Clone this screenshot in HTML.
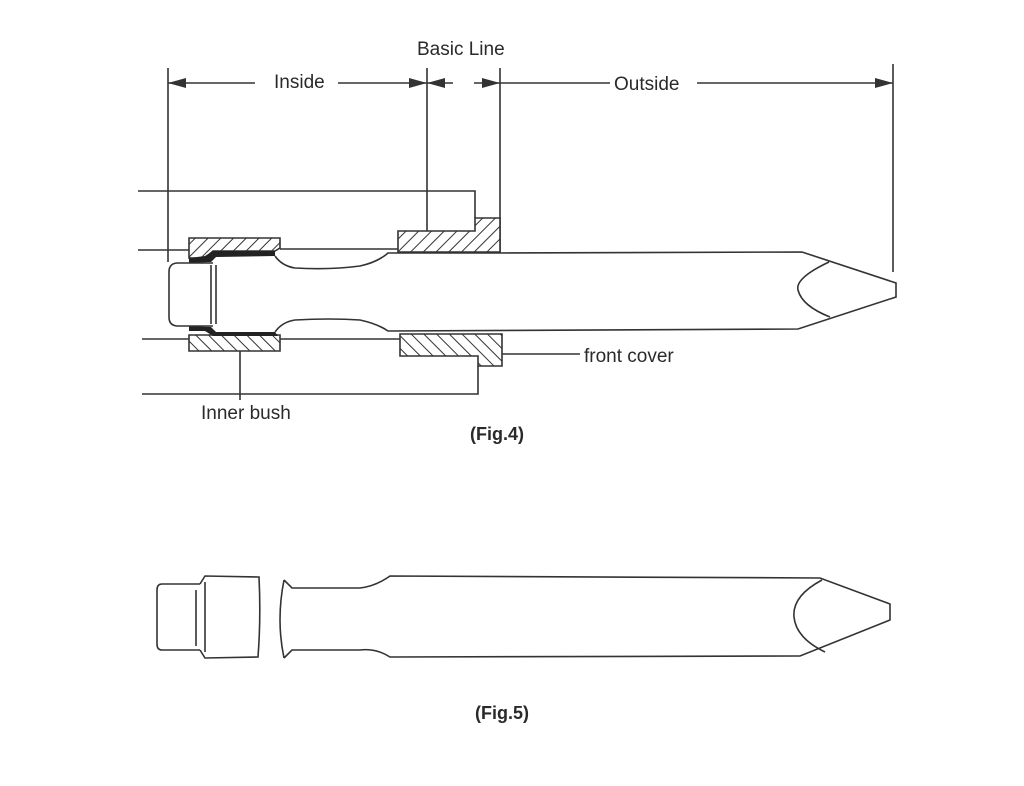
<!DOCTYPE html>
<html><head><meta charset="utf-8"><style>
html,body{margin:0;padding:0;background:#fff;}
svg{display:block;}
text{font-family:"Liberation Sans",Arial,sans-serif;fill:#2a2a2a;}
</style></head><body>
<svg width="1024" height="786" viewBox="0 0 1024 786" xmlns="http://www.w3.org/2000/svg">
<defs>
<pattern id="h1" patternUnits="userSpaceOnUse" width="9" height="9" patternTransform="rotate(45)">
<rect width="9" height="9" fill="#fff"/><line x1="0" y1="0" x2="0" y2="9" stroke="#333" stroke-width="2"/></pattern>
<pattern id="h2" patternUnits="userSpaceOnUse" width="9" height="9" patternTransform="rotate(-45)">
<rect width="9" height="9" fill="#fff"/><line x1="0" y1="0" x2="0" y2="9" stroke="#333" stroke-width="2"/></pattern>
</defs>
<g stroke="#333" stroke-width="1.6" fill="none">
<line x1="168" y1="68" x2="168" y2="262"/>
<line x1="427" y1="68" x2="427" y2="236"/>
<line x1="500" y1="68" x2="500" y2="252"/>
<line x1="893" y1="64" x2="893" y2="272"/>
<line x1="168" y1="83" x2="255" y2="83"/>
<line x1="338" y1="83" x2="427" y2="83"/>
<line x1="427" y1="83" x2="453" y2="83"/>
<line x1="474" y1="83" x2="500" y2="83"/>
<line x1="500" y1="83" x2="610" y2="83"/>
<line x1="697" y1="83" x2="893" y2="83"/>
</g>
<g fill="#333">
<polygon points="168,83 186,78 186,88"/>
<polygon points="427,83 409,78 409,88"/>
<polygon points="427,83 445,78 445,88"/>
<polygon points="500,83 482,78 482,88"/>
<polygon points="893,83 875,78 875,88"/>
</g>
<text x="274" y="88" font-size="19">Inside</text>
<text x="417" y="55" font-size="19">Basic Line</text>
<text x="614" y="90" font-size="19">Outside</text>

<g stroke="#333" stroke-width="1.6" fill="none">
<polyline points="138,191 475,191 475,218"/>
<line x1="138" y1="250" x2="189" y2="250"/>
<line x1="280" y1="249" x2="398" y2="249"/>
<line x1="142" y1="339" x2="189" y2="339"/>
<line x1="280" y1="339" x2="400" y2="339"/>
<polyline points="142,394 478,394 478,366"/>
<line x1="502" y1="354" x2="580" y2="354"/>
<line x1="240" y1="351" x2="240" y2="400"/>
</g>
<g stroke="#333" stroke-width="1.6">
<polygon points="398,231 475,231 475,218 500,218 500,252 398,252" fill="url(#h1)"/>
<polygon points="189,238 280,238 280,248 275,251 213,251 205,258 189,258" fill="url(#h1)"/>
<polygon points="189,335 280,335 280,351 189,351" fill="url(#h2)"/>
<polygon points="400,334 502,334 502,366 478,366 478,356 400,356" fill="url(#h2)"/>
</g>
<path d="M189,258 L205,256 L213,251 L275,251 L275,256 L216,257 L211,262 L189,263 Z" fill="#222"/>
<path d="M189,326 L211,327 L216,332 L275,332 L278,336 L213,336 L205,331 L189,331 Z" fill="#222"/>
<g stroke="#333" stroke-width="1.6" fill="none">
<path d="M213,263 L178,263 Q169,263 169,272 L169,317 Q169,326 178,326 L213,326"/>
<line x1="211" y1="265" x2="211" y2="324"/>
<line x1="216" y1="265" x2="216" y2="324"/>
<path d="M275,256 Q282,266 295,268 Q330,270 360,266 Q378,262 388,253 L500,253 L802,252 L896,283 L896,297 L798,329 L388,331 Q378,324 360,320 Q330,318 295,320 Q282,322 275,332"/>
<path d="M829,262 Q795,278 798,290 Q802,306 830,317"/>
</g>
<text x="584" y="362" font-size="19">front cover</text>
<text x="201" y="419" font-size="19">Inner bush</text>
<text x="470" y="440" font-size="18" font-weight="bold">(Fig.4)</text>

<g stroke="#333" stroke-width="1.6" fill="none">
<path d="M200,584 L162,584 Q157,584 157,590 L157,644 Q157,650 162,650 L200,650"/>
<path d="M200,584 L205,576 L259,577 Q261,618 258,657 L205,658 L200,650"/>
<line x1="196" y1="590" x2="196" y2="646"/>
<line x1="205" y1="582" x2="205" y2="652"/>
<path d="M284,580 Q276,620 284,658"/>
<path d="M284,580 L292,588 L360,588 Q376,586 390,576 L820,578 L890,604 L890,620 L800,656 L390,657 Q376,648 360,650 L292,650 L284,658"/>
<path d="M822,580 Q792,596 794,617 Q796,638 825,652"/>
</g>
<text x="475" y="719" font-size="18" font-weight="bold">(Fig.5)</text>
</svg>
</body></html>
